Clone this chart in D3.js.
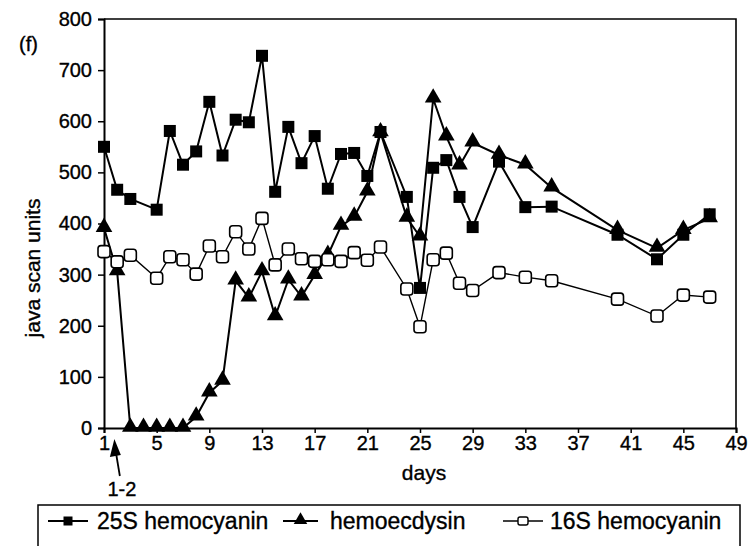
<!DOCTYPE html>
<html>
<head>
<meta charset="utf-8">
<script src="https://cdn.jsdelivr.net/npm/d3@7"></script>
<style>
  html, body { margin: 0; padding: 0; background: #fff; }
  svg { display: block; }
  text { font-family: "Liberation Sans", Arial, Helvetica, sans-serif; fill: #000; stroke: #000; stroke-width: 0.35px; }
</style>
</head>
<body>
<svg id="chart" width="752" height="546"></svg>
<script>
// ---- data ----
const days25S = [1,2,3,5,6,7,8,9,10,11,12,13,14,15,16,17,18,19,20,21,22,24,25,26,27,28,29,31,33,35,40,43,45,47];
const vals25S = [550,466,448,427,581,515,541,638,533,603,598,728,462,589,518,571,468,536,538,493,579,452,274,509,524,452,393,521,432,433,378,330,378,418];

const daysEcd = [1,2,3,4,5,6,7,8,9,10,11,12,13,14,15,16,17,18,19,20,21,22,24,25,26,27,28,29,31,33,35,40,43,45,47];
const valsEcd = [391,306,0,0,0,0,0,22,69,92,288,255,306,218,290,257,299,338,395,413,462,578,411,374,644,570,513,558,534,515,470,387,352,387,410];

const days16S = [1,2,3,5,6,7,8,9,10,11,12,13,14,15,16,17,18,19,20,21,22,24,25,26,27,28,29,31,33,35,40,43,45,47];
const vals16S = [345,325,338,293,335,329,301,356,335,384,350,410,319,350,331,326,329,326,343,328,354,272,198,329,342,283,269,304,295,288,252,219,260,256];

const xTicks = [1,5,9,13,17,21,25,29,33,37,41,45,49];
const yTicks = [0,100,200,300,400,500,600,700,800];
const seriesNames = ["25S hemocyanin", "hemoecdysin", "16S hemocyanin"];

// ---- layout ----
const svg = d3.select("#chart");
const L = 104, R = 736, T = 19, B = 428;
const x = d3.scaleLinear().domain([1, 49]).range([L, R]);
const y = d3.scaleLinear().domain([0, 800]).range([B, T]);

svg.append("rect").attr("width", 752).attr("height", 546).attr("fill", "#fff");

// frame top/right
svg.append("path")
  .attr("d", `M${L},${T}H${R}V${B}`)
  .attr("fill", "none").attr("stroke", "#000").attr("stroke-width", 1.6);

// axes
const xAxis = d3.axisBottom(x).tickValues(xTicks).tickSize(5).tickPadding(3).tickFormat(d3.format("d"));
const gx = svg.append("g").attr("transform", `translate(0,${B})`).call(xAxis);
gx.select(".domain").attr("stroke-width", 2);
gx.selectAll(".tick line").attr("stroke-width", 1.5);
gx.selectAll("text").attr("font-size", 20).attr("font-family", "Liberation Sans, Arial, sans-serif").attr("fill", "#000");

const yAxis = d3.axisLeft(y).tickValues(yTicks).tickSize(6).tickPadding(6).tickFormat(d3.format("d"));
const gy = svg.append("g").attr("transform", `translate(${L},0)`).call(yAxis);
gy.select(".domain").attr("stroke-width", 2);
gy.selectAll(".tick line").attr("stroke-width", 1.5);
gy.selectAll("text").attr("font-size", 20).attr("font-family", "Liberation Sans, Arial, sans-serif").attr("fill", "#000");

// axis titles
svg.append("text").attr("x", 424).attr("y", 480)
  .attr("text-anchor", "middle").attr("font-size", 21).text("days");
svg.append("text").attr("transform", "translate(40,268) rotate(-90)")
  .attr("text-anchor", "middle").attr("font-size", 21).text("java scan units");
svg.append("text").attr("x", 19).attr("y", 51).attr("font-size", 20).text("(f)");

// ---- series ----
const line = d3.line().x(d => x(d[0])).y(d => y(d[1]));
const d25 = days25S.map((d, i) => [d, vals25S[i]]);
const dEc = daysEcd.map((d, i) => [d, valsEcd[i]]);
const d16 = days16S.map((d, i) => [d, vals16S[i]]);

svg.append("path").datum(d16).attr("d", line)
  .attr("fill", "none").attr("stroke", "#000").attr("stroke-width", 1.4);
svg.append("path").datum(d25).attr("d", line)
  .attr("fill", "none").attr("stroke", "#000").attr("stroke-width", 2);
svg.append("path").datum(dEc).attr("d", line)
  .attr("fill", "none").attr("stroke", "#000").attr("stroke-width", 2);

const sq = 12;
svg.append("g").selectAll("rect").data(d25).join("rect")
  .attr("x", d => x(d[0]) - sq / 2).attr("y", d => y(d[1]) - sq / 2)
  .attr("width", sq).attr("height", sq).attr("fill", "#000");

const tri = d3.symbol().type(d3.symbolTriangle).size(120);
svg.append("g").selectAll("path").data(dEc).join("path")
  .attr("d", tri)
  .attr("transform", d => `translate(${x(d[0])},${y(d[1]) - 1})`)
  .attr("fill", "#000");

const os = 12;
svg.append("g").selectAll("rect").data(d16).join("rect")
  .attr("x", d => x(d[0]) - os / 2).attr("y", d => y(d[1]) - os / 2)
  .attr("width", os).attr("height", os).attr("rx", 3)
  .attr("fill", "#fff").attr("stroke", "#000").attr("stroke-width", 1.6);

// ---- annotation arrow "1-2" ----
const ax = x(1.9);
svg.append("line").attr("x1", ax + 4).attr("y1", 476).attr("x2", ax).attr("y2", 452)
  .attr("stroke", "#000").attr("stroke-width", 1.8);
svg.append("path")
  .attr("d", `M${ax - 1.5},${439} L${ax - 6},${457} L${ax + 5},${455} Z`)
  .attr("fill", "#000");
svg.append("text").attr("x", ax + 6).attr("y", 496).attr("text-anchor", "middle")
  .attr("font-size", 20).text("1-2");

// ---- legend ----
svg.append("rect").attr("x", 38).attr("y", 505).attr("width", 702).attr("height", 60)
  .attr("fill", "none").attr("stroke", "#000").attr("stroke-width", 1.5);
const ly = 521;
const legendItems = [
  { x0: 48, x1: 88, tx: 97, kind: "sq" },
  { x0: 283, x1: 318, tx: 330, kind: "tri" },
  { x0: 503, x1: 543, tx: 550, kind: "osq" }
];
legendItems.forEach((it, i) => {
  svg.append("line").attr("x1", it.x0).attr("x2", it.x1).attr("y1", ly).attr("y2", ly)
    .attr("stroke", "#000").attr("stroke-width", i === 2 ? 1.4 : 2);
  const cx = (it.x0 + it.x1) / 2;
  if (it.kind === "sq") {
    svg.append("rect").attr("x", cx - 4.5).attr("y", ly - 4.5).attr("width", 9).attr("height", 9).attr("fill", "#000");
  } else if (it.kind === "tri") {
    svg.append("path").attr("d", d3.symbol().type(d3.symbolTriangle).size(80)).attr("transform", `translate(${cx},${ly - 1})`).attr("fill", "#000");
  } else {
    svg.append("rect").attr("x", cx - 5).attr("y", ly - 4).attr("width", 10).attr("height", 8).attr("rx", 2)
      .attr("fill", "#fff").attr("stroke", "#000").attr("stroke-width", 1.4);
  }
  svg.append("text").attr("x", it.tx).attr("y", ly + 8).attr("font-size", 23).text(seriesNames[i]);
});
</script>
</body>
</html>
